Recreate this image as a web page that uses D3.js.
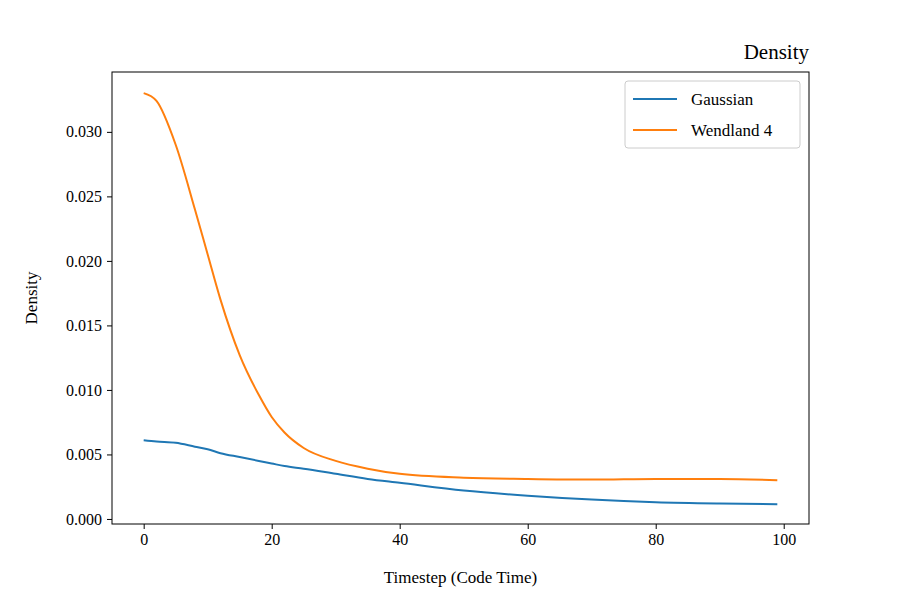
<!DOCTYPE html><html><head><script src="https://cdn.jsdelivr.net/npm/d3@7"></script>
<style>body{margin:0;background:#fff}text{font-family:"Liberation Serif","Times New Roman",serif;fill:#000}</style></head><body>
<svg id="c" width="900" height="600"></svg>
<script>
const xs=[0,2,5,8,10,12,15,18,20,22,25,30,35,40,50,60,70,80,90,99];
const wendland=[0.0330,0.0324,0.0290,0.0240,0.0205,0.0170,0.0127,0.0096,0.0079,0.0067,0.0055,0.0045,0.0039,0.0035,0.0032,0.0031,0.00305,0.0031,0.0031,0.0030];
const gaussian=[0.0061,0.0060,0.0059,0.0056,0.0054,0.0051,0.0048,0.0045,0.0043,0.0041,0.0039,0.0035,0.0031,0.0028,0.0022,0.0018,0.0015,0.0013,0.0012,0.00115];
const yTicks=[0,0.005,0.01,0.015,0.02,0.025,0.03];
const xTicks=[0,20,40,60,80,100];
const svg=d3.select("#c");
const L=112,R=809,T=72,B=524;
const x=d3.scaleLinear().domain([-4.95,103.95]).range([L,R]);
const y=d3.scaleLinear().domain([-0.00039,0.03464]).range([B,T]);
svg.append("g").attr("transform",`translate(0,${B})`).call(d3.axisBottom(x).tickValues(xTicks).tickSize(5).tickPadding(5)).call(g=>g.select(".domain").remove()).selectAll("text").attr("font-size",16);
svg.append("g").attr("transform",`translate(${L},0)`).call(d3.axisLeft(y).tickValues(yTicks).tickFormat(d3.format(".3f")).tickSize(5).tickPadding(5)).call(g=>g.select(".domain").remove()).selectAll("text").attr("font-size",16);
svg.append("rect").attr("x",L).attr("y",T).attr("width",R-L).attr("height",B-T).attr("fill","none").attr("stroke","#000");
const line=d3.line().x((d,i)=>x(xs[i])).y(d=>y(d)).curve(d3.curveMonotoneX);
svg.append("path").datum(gaussian).attr("d",line).attr("fill","none").attr("stroke","#1f77b4").attr("stroke-width",2);
svg.append("path").datum(wendland).attr("d",line).attr("fill","none").attr("stroke","#ff7f0e").attr("stroke-width",2);
svg.append("text").attr("x",R).attr("y",59).attr("text-anchor","end").attr("font-size",21).text("Density");
svg.append("text").attr("x",(L+R)/2).attr("y",583).attr("text-anchor","middle").attr("font-size",17).text("Timestep (Code Time)");
svg.append("text").attr("transform",`translate(37,${(T+B)/2}) rotate(-90)`).attr("text-anchor","middle").attr("font-size",17).text("Density");
const lg=svg.append("g");
lg.append("rect").attr("x",625).attr("y",81).attr("width",175).attr("height",67).attr("rx",3).attr("fill","#fff").attr("stroke","#ccc");
[["Gaussian","#1f77b4",99],["Wendland 4","#ff7f0e",130]].forEach(([t,c,yy])=>{
lg.append("line").attr("x1",633).attr("x2",677).attr("y1",yy).attr("y2",yy).attr("stroke",c).attr("stroke-width",2);
lg.append("text").attr("x",691).attr("y",yy+6).attr("font-size",17).text(t);});
</script></body></html>
